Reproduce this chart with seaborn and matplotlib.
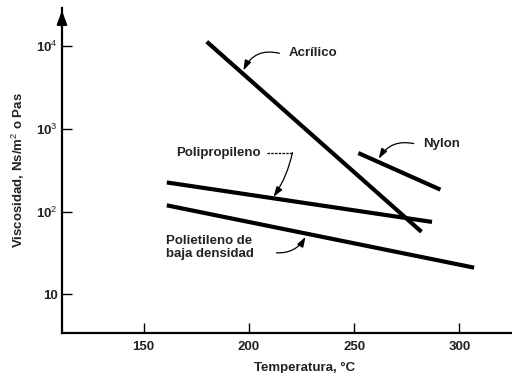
import matplotlib
matplotlib.use("Agg")
import matplotlib.pyplot as plt
import seaborn as sns
import pandas as pd

# Data
materials = ["Acrílico", "Nylon", "Polipropileno", "Polietileno de baja densidad"]
acrilico_t = [180, 282]
acrilico_v = [11300, 57]
nylon_t = [252, 291]
nylon_v = [510, 184]
polipropileno_t = [161, 287]
polipropileno_v = [225, 75]
polietileno_t = [161, 307]
polietileno_v = [119, 21]

xticks = [150, 200, 250, 300]
yticks = [10, 100, 1000, 10000]
ytick_labels = ["10", "10$^2$", "10$^3$", "10$^4$"]

rows = []
for name, ts, vs in zip(materials,
                        [acrilico_t, nylon_t, polipropileno_t, polietileno_t],
                        [acrilico_v, nylon_v, polipropileno_v, polietileno_v]):
    for t, v in zip(ts, vs):
        rows.append({"Material": name, "T": t, "V": v})
df = pd.DataFrame(rows)

sns.set_style("ticks")
plt.rcParams['font.family'] = ['Liberation Sans', 'DejaVu Sans']
plt.rcParams['mathtext.fontset'] = 'custom'
plt.rcParams['mathtext.rm'] = 'Liberation Sans'
plt.rcParams['mathtext.bf'] = 'Liberation Sans:bold'

fig = plt.figure(figsize=(5.12, 3.73), dpi=100)
ax = fig.add_axes([0.121, 0.107, 0.879, 0.872])

sns.lineplot(data=df, x="T", y="V", units="Material", estimator=None,
             color="black", linewidth=3.0, ax=ax, legend=False,
             solid_capstyle="butt")

ax.set_yscale("log")
ax.set_xlim(111.2, 325)
ax.set_ylim(3.4, 29000)
ax.set_xticks(xticks)
ax.set_xticklabels([str(x) for x in xticks])
ax.set_yticks(yticks)
ax.set_yticklabels(ytick_labels)
ax.minorticks_off()
ax.tick_params(direction="in", length=7, width=1, labelsize=9.5, colors="black")
ax.tick_params(axis="x", pad=6)
ax.tick_params(axis="y", pad=3)
for lab in ax.get_xticklabels() + ax.get_yticklabels():
    lab.set_fontweight("bold")
    lab.set_color("#222222")

for s in ["top", "right"]:
    ax.spines[s].set_visible(False)
for s in ["left", "bottom"]:
    ax.spines[s].set_linewidth(1.6)
    ax.spines[s].set_color("black")

# arrow at top of y axis
ax.annotate("", xy=(0, 1.0), xycoords="axes fraction", xytext=(0, 0.95),
            arrowprops=dict(arrowstyle="-|>,head_length=0.8,head_width=0.3",
                            color="black", lw=1.6), annotation_clip=False)

ax.set_xlabel("Temperatura, °C", fontsize=9.5, fontweight="bold", color="#222222")
ax.xaxis.set_label_coords(0.54, -0.088)
ax.set_ylabel("Viscosidad, Ns/m$^2$ o Pas", fontsize=9.5, fontweight="bold", color="#222222")
ax.yaxis.set_label_coords(-0.078, 0.5)

tkw = dict(fontsize=9.5, fontweight="bold", color="#222222", va="center", ha="left")
arr = dict(arrowstyle="-|>,head_length=0.6,head_width=0.2", color="black", lw=0.9,
           shrinkA=0, shrinkB=0)

# Acrílico
ax.text(219, 8180, "Acrílico", **tkw)
ax.annotate("", xy=(197.4, 5090), xytext=(214.5, 8180),
            arrowprops=dict(connectionstyle="arc3,rad=0.4", **arr))
# Nylon
ax.text(282.9, 663, "Nylon", **tkw)
ax.annotate("", xy=(261.7, 436), xytext=(278.3, 663),
            arrowprops=dict(connectionstyle="arc3,rad=0.35", **arr))
# Polipropileno
ax.text(165.5, 516, "Polipropileno", **tkw)
ax.plot([208.5, 220.7], [516, 516], color="black", lw=0.9, ls=(0, (2, 1)))
ax.annotate("", xy=(211.7, 151), xytext=(220.7, 516),
            arrowprops=dict(connectionstyle="arc3,rad=-0.1", **arr))
# Polietileno
ax.text(160.7, 36.4, "Polietileno de\nbaja densidad", linespacing=1.1, **tkw)
ax.annotate("", xy=(226.9, 49.5), xytext=(213.1, 31.7),
            arrowprops=dict(connectionstyle="arc3,rad=0.3", **arr))

fig.savefig("out.png", dpi=100, facecolor="white")
